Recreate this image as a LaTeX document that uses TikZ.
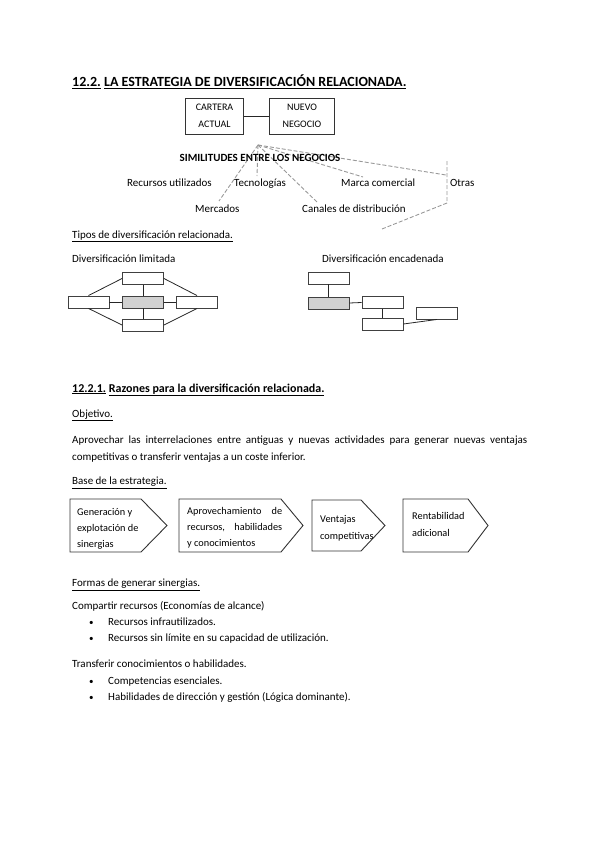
\documentclass[tikz,border=0pt]{standalone}
\usepackage{fontspec}
\setmainfont{Carlito}
\begin{document}
\begin{tikzpicture}[x=1pt,y=-1pt,
  txt/.style={inner sep=0pt, anchor=base west, font=\fontsize{11}{13}\selectfont},
  atx/.style={txt, font=\fontsize{10.3}{12}\selectfont},
  bx/.style={draw=black!80, line width=0.8pt, inner sep=0pt, align=center, font=\fontsize{10}{17}\selectfont},
  sbox/.style={draw=black!75, line width=0.9pt, minimum width=41pt, minimum height=12pt, inner sep=0pt},
  gbox/.style={sbox, fill=black!18},
  ln/.style={draw=black!85, line width=0.8pt},
  dsh/.style={draw=black!40, dash pattern=on 4pt off 2pt, line width=0.9pt},
  arr/.style={draw=black!80, line width=0.9pt, line join=miter},
]
\useasboundingbox (0,0) rectangle (599,848);

% Title
\node[txt, font=\fontsize{14}{16}\selectfont\bfseries] (title) at (72,87) {\underline{12.2.}\ \underline{LA ESTRATEGIA DE DIVERSIFICACIÓN RELACIONADA.}};

% Boxes
\node[bx, minimum width=58pt, minimum height=36pt] (cartera) at (214.5,116) {CARTERA\\ACTUAL};
\node[bx, minimum width=65pt, minimum height=36pt] (nuevo) at (302,116) {NUEVO\\NEGOCIO};
\draw[ln] (cartera) -- (nuevo);

% Similitudes
\coordinate (apex) at (258,145);
\coordinate (mercE) at (219,201);
\coordinate (tecE) at (257,176);
\coordinate (canE) at (318,203);
\coordinate (marE) at (363,177);
\coordinate (otrE) at (446,175);
\coordinate (otrT) at (447,161);
\coordinate (otrB) at (447,203);
\coordinate (otrL) at (382,229);
\draw[dsh] (apex) -- (mercE);
\draw[dsh] (apex) -- (tecE);
\draw[dsh] (apex) -- (canE);
\draw[dsh] (apex) -- (marE);
\draw[dsh] (apex) -- (otrE);
\draw[dsh] (otrT) -- (otrB) -- (otrL);

\node[inner sep=0pt, anchor=base, font=\fontsize{11}{12}\selectfont\bfseries] (sim) at (260,161.5) {SIMILITUDES ENTRE LOS NEGOCIOS};
\node[txt] (rec) at (127,186.5) {Recursos utilizados};
\node[txt] (tec) at (234,186.5) {Tecnologías};
\node[txt] (mar) at (341,186.5) {Marca comercial};
\node[txt] (otr) at (450,186.5) {Otras};
\node[txt] (mer) at (195,212.5) {Mercados};
\node[txt] (can) at (302,212.5) {Canales de distribución};

% Tipos
\node[txt] (tipos) at (72,238.5) {\underline{Tipos de diversificación relacionada.}};
\node[txt] (lim) at (72,262.5) {Diversificación limitada};
\node[txt] (enc) at (322,262.5) {Diversificación encadenada};

% Limitada diagram
\node[sbox] (lt) at (143,278.5) {};
\node[gbox] (lm) at (143,302) {};
\node[sbox] (ll) at (88.5,302) {};
\node[sbox] (lr) at (197,302) {};
\node[sbox] (lb) at (143,325) {};
\draw[ln] (lt.south) -- (lm.north);
\draw[ln] (lm.south) -- (lb.north);
\draw[ln] (ll.east) -- (lm.west);
\draw[ln] (lm.east) -- (lr.west);
\draw[ln] (ll.north) -- (lt.west);
\draw[ln] (lt.east) -- (lr.north);
\draw[ln] (ll.south) -- (lb.west);
\draw[ln] (lr.south) -- (lb.east);

% Encadenada diagram
\node[sbox] (et) at (328.5,278) {};
\node[gbox] (eg) at (328.5,303) {};
\node[sbox] (e1) at (382.5,302.5) {};
\node[sbox] (el) at (382.5,324) {};
\node[sbox] (ef) at (437,313) {};
\draw[ln] (et.south) -- (eg.north);
\draw[ln] (eg.east) -- (e1.west);
\draw[ln] (e1.south) -- (el.north);
\draw[ln] (el.east) -- (ef.south);

% 12.2.1
\node[txt, font=\fontsize{12}{14}\selectfont\bfseries] (sec) at (72,392) {\underline{12.2.1.}\ \underline{Razones para la diversificación relacionada.}};
\node[txt] (obj) at (72,417) {\underline{Objetivo.}};
\node[txt] (p1) at (72,443) {\makebox[455pt][s]{Aprovechar las interrelaciones entre antiguas y nuevas actividades para generar nuevas ventajas}};
\node[txt] (p2) at (72,460) {competitivas o transferir ventajas a un coste inferior.};

\node[txt] (base) at (72,484.5) {\underline{Base de la estrategia.}};

% Chevrons
\draw[arr] (70,499) -- (141,499) -- (167,525.5) -- (141,552) -- (70,552) -- cycle;
\draw[arr] (179,499) -- (281,499) -- (303,525.5) -- (281,552) -- (179,552) -- cycle;
\draw[arr] (312,500) -- (361,500) -- (385,525.5) -- (361,551) -- (312,551) -- cycle;
\draw[arr] (403,499) -- (468,499) -- (488,525.5) -- (468,552) -- (403,552) -- cycle;

\node[atx] (a1) at (77,515.5) {Generación y};
\node[atx] (a2) at (77,531.5) {explotación de};
\node[atx] (a3) at (77,547.5) {sinergias};
\node[atx] (b1) at (187,514.5) {\makebox[95pt][s]{Aprovechamiento de}};
\node[atx] (b2) at (187,530.5) {\makebox[95pt][s]{recursos, habilidades}};
\node[atx] (b3) at (187,546.5) {y conocimientos};
\node[atx] (c1) at (320,522.5) {Ventajas};
\node[atx] (c2) at (320,539.5) {competitivas};
\node[atx] (d1) at (412,519.5) {Rentabilidad};
\node[atx] (d2) at (412,536.5) {adicional};

% Formas
\node[txt] (formas) at (72,586.5) {\underline{Formas de generar sinergias.}};
\node[txt] (comp) at (72,609.5) {Compartir recursos (Economías de alcance)};
\node[txt, font=\fontsize{9}{11}\selectfont] (bu1) at (89,625) {•};
\node[txt] (i1) at (108,625.5) {Recursos infrautilizados.};
\node[txt, font=\fontsize{9}{11}\selectfont] (bu2) at (89,641) {•};
\node[txt] (i2) at (108,641.5) {Recursos sin límite en su capacidad de utilización.};
\node[txt] (trans) at (72,667.5) {Transferir conocimientos o habilidades.};
\node[txt, font=\fontsize{9}{11}\selectfont] (bu3) at (89,684) {•};
\node[txt] (i3) at (108,684.5) {Competencias esenciales.};
\node[txt, font=\fontsize{9}{11}\selectfont] (bu4) at (89,700) {•};
\node[txt] (i4) at (108,700.5) {Habilidades de dirección y gestión (Lógica dominante).};
\end{tikzpicture}
\end{document}
